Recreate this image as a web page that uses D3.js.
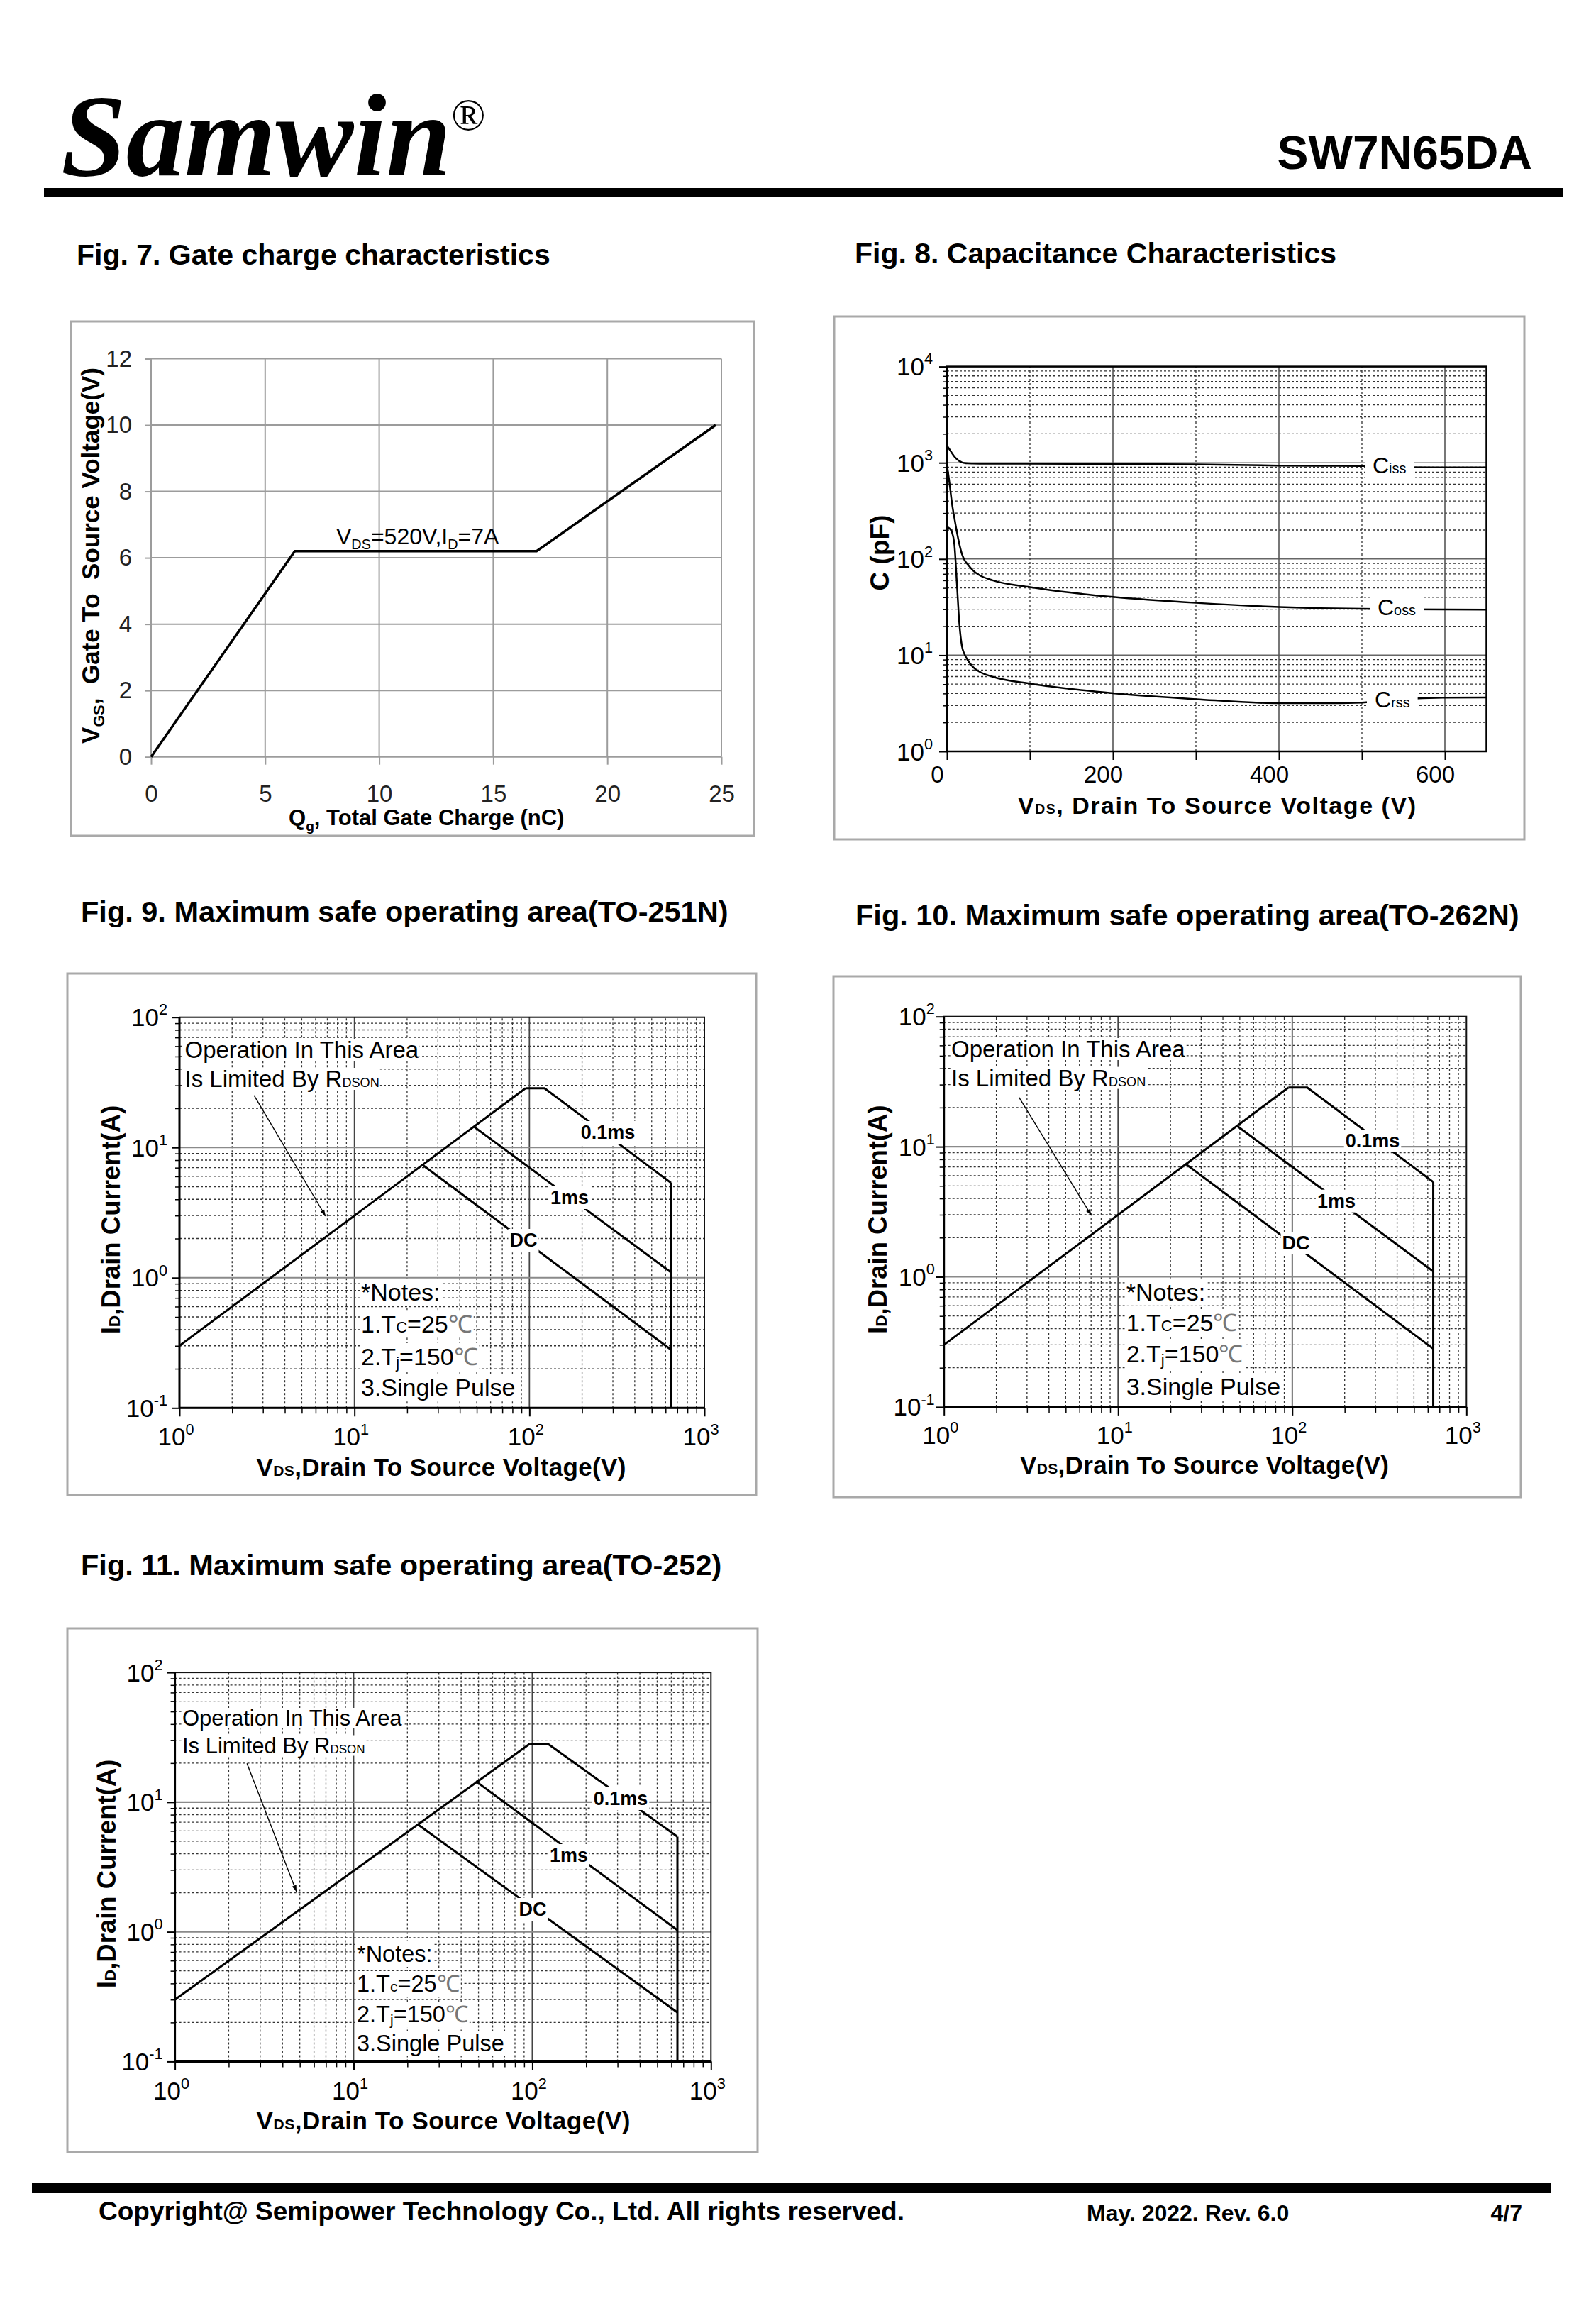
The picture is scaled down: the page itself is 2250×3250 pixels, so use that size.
<!DOCTYPE html>
<html><head><meta charset="utf-8">
<script src="https://cdn.jsdelivr.net/npm/d3@7"></script>
<style>html,body{margin:0;padding:0;background:#fff;overflow:hidden}svg{display:block}</style>
</head><body>
<svg id="page" width="2250" height="3250"></svg>
<script>
// ================= DATA =================
// Fig.7 gate charge
const gateCharge  = [0, 6.3, 16.9, 24.75];   // Qg (nC)
const gateVoltage = [0, 6.2, 6.2, 10];       // VGS (V)
const gateXTicks  = [0, 5, 10, 15, 20, 25];
const gateYTicks  = [0, 2, 4, 6, 8, 10, 12];

// Fig.8 capacitance
const capVds = [0, 3, 6, 9, 12, 15, 18, 21, 25, 31, 39, 55, 100, 148, 200, 300, 400, 450, 500, 550, 600, 650];
const ciss   = [1500, 1380, 1260, 1160, 1090, 1040, 1010, 995, 985, 982, 980, 980, 978, 975, 972, 962, 935, 930, 927, 900, 895, 893];
const coss   = [950, 620, 380, 265, 190, 142, 113, 98, 88, 76.5, 68, 60, 51, 44.8, 40.3, 35, 31.7, 30.8, 30.4, 30, 29.8, 29.7];
const crss   = [214, 208, 190, 140, 55, 21, 12.5, 10.3, 8.9, 7.6, 6.75, 5.97, 5.06, 4.47, 4.02, 3.49, 3.17, 3.17, 3.22, 3.5, 3.62, 3.64];
const capXTicks = [0, 200, 400, 600];
const capYTicks = [1, 10, 100, 1000, 10000];

// Fig.9 / Fig.10 safe operating area (TO-251N / TO-262N)   [VDS (V), ID (A)]
const soaRdson = [[1, 0.3], [95, 28.5]];
const soa01ms  = [[95, 28.5], [122, 28.5], [645, 5.35]];
const soa1ms   = [[48, 14.5], [645, 1.1]];
const soaDC    = [[24.5, 7.35], [645, 0.28]];
const soaVmax  = [[645, 5.35], [645, 0.1]];
const soaArrow9  = [[2.67, 25.1], [6.84, 2.97]];
const soaArrow10 = [[2.70, 23.9], [7.03, 2.96]];

// Fig.11 safe operating area (TO-252)
const soa252Rdson = [[1, 0.3], [97, 28.2]];
const soa252_01ms = [[97, 28.2], [122, 28.2], [649, 5.42]];
const soa252_1ms  = [[48.3, 14.5], [649, 1.03]];
const soa252DC    = [[22.8, 6.75], [649, 0.239]];
const soa252Vmax  = [[649, 5.42], [649, 0.1]];
const soaArrow11  = [[2.53, 19.9], [4.79, 2.04]];

const soaXTicks = [1, 10, 100, 1000];
const soaYTicks = [0.1, 1, 10, 100];

// ================= HELPERS =================
const SANS  = '"Liberation Sans", Arial, Helvetica, sans-serif';
const SERIF = '"Liberation Serif", "Times New Roman", serif';
const svg = d3.select('#page');
svg.append('rect').attr('width', 2250).attr('height', 3250).attr('fill', '#fff');
const defs = svg.append('defs');
defs.append('marker').attr('id', 'arr').attr('viewBox', '0 0 10 10')
  .attr('refX', 10).attr('refY', 5).attr('markerWidth', 16).attr('markerHeight', 9)
  .attr('markerUnits', 'userSpaceOnUse').attr('orient', 'auto')
  .append('path').attr('d', 'M0,1.5 L10,5 L0,8.5 Z').attr('fill', '#000');

function rich(g, x, y, parts, o = {}) {
  const size = o.size || 33;
  const t = g.append('text')
    .attr('font-family', o.family || SANS)
    .attr('font-size', size)
    .attr('font-weight', o.weight || 'normal')
    .attr('font-style', o.style || 'normal')
    .attr('text-anchor', o.anchor || 'start')
    .attr('fill', o.fill || '#000')
    .style('white-space', 'pre');
  if (o.rotate) t.attr('transform', `translate(${x},${y}) rotate(${o.rotate})`);
  else t.attr('x', x).attr('y', y);
  if (o.length) t.attr('textLength', o.length).attr('lengthAdjust', o.adjust || 'spacing');
  let cur = 0;
  (typeof parts === 'string' ? [[parts]] : parts).forEach(p => {
    const [s, sc = 1, sh = 0, fill] = typeof p === 'string' ? [p] : p;
    const ts = t.append('tspan').text(s).attr('font-size', size * sc);
    const dy = sh * size - cur;
    if (dy) ts.attr('dy', dy);
    cur = sh * size;
    if (fill) ts.attr('fill', fill);
  });
  return t;
}
function bg(g, t, px = 3, py = 1) {
  const b = t.node().getBBox();
  g.insert('rect', () => t.node())
    .attr('x', b.x - px).attr('y', b.y - py)
    .attr('width', b.width + 2 * px).attr('height', b.height + 2 * py)
    .attr('fill', '#fff');
}
function box(g, x, y, w, h) {
  g.append('rect').attr('x', x).attr('y', y).attr('width', w).attr('height', h)
    .attr('fill', 'none').attr('stroke', '#a9a9a9').attr('stroke-width', 3);
}
function minors(lo, hi) {
  const out = [];
  for (let d = lo; d < hi * 0.999; d *= 10)
    for (let k = 2; k <= 9; k++) out.push(+(d * k).toPrecision(3));
  return out;
}
function majorsInside(lo, hi) {
  const out = [];
  for (let d = lo * 10; d < hi * 0.999; d *= 10) out.push(+d.toPrecision(3));
  return out;
}
function cleanAxis(a, color, w) {
  a.select('.domain').remove();
  a.selectAll('line').attr('stroke', color).attr('stroke-width', w);
  a.selectAll('text').remove();
}

// ================= HEADER / FOOTER =================
rich(svg, 86, 247, 'Samwin', { family: SERIF, size: 165, weight: 'bold', style: 'italic' });
rich(svg, 636, 183, '®', { family: SERIF, size: 64 });
rich(svg, 2160, 238, 'SW7N65DA', { size: 66, weight: 'bold', anchor: 'end' });
svg.append('rect').attr('x', 62).attr('y', 265).attr('width', 2142).attr('height', 13).attr('fill', '#000');

svg.append('rect').attr('x', 45).attr('y', 3077).attr('width', 2141).attr('height', 14).attr('fill', '#000');
rich(svg, 139, 3129, 'Copyright@ Semipower Technology Co., Ltd. All rights reserved.', { size: 37, weight: 'bold' });
rich(svg, 1532, 3130, 'May. 2022. Rev. 6.0', { size: 32, weight: 'bold' });
rich(svg, 2146, 3130, '4/7', { size: 32, weight: 'bold', anchor: 'end' });

// titles
rich(svg, 108, 373, 'Fig. 7. Gate charge characteristics', { size: 41, weight: 'bold' });
rich(svg, 1205, 371, 'Fig. 8. Capacitance Characteristics', { size: 41, weight: 'bold' });
rich(svg, 114, 1299, 'Fig. 9. Maximum safe operating area(TO-251N)', { size: 41.5, weight: 'bold' });
rich(svg, 1206, 1304, 'Fig. 10. Maximum safe operating area(TO-262N)', { size: 41.5, weight: 'bold' });
rich(svg, 114, 2220, 'Fig. 11. Maximum safe operating area(TO-252)', { size: 41.5, weight: 'bold' });

// ================= FIG 7 =================
{
  const g = svg.append('g');
  box(g, 100, 453, 963, 725);
  const x = d3.scaleLinear([0, 25], [213, 1017]);
  const y = d3.scaleLinear([0, 12], [1066.7, 505.5]);
  const gc = '#9c9c9c';
  g.selectAll('.gv').data(gateXTicks).join('line')
    .attr('x1', d => x(d)).attr('x2', d => x(d)).attr('y1', y(0)).attr('y2', y(12))
    .attr('stroke', gc).attr('stroke-width', 2);
  g.selectAll('.gh').data(gateYTicks).join('line')
    .attr('x1', x(0)).attr('x2', x(25)).attr('y1', d => y(d)).attr('y2', d => y(d))
    .attr('stroke', gc).attr('stroke-width', 2);
  const ay = g.append('g').attr('transform', `translate(${x(0)},0)`)
    .call(d3.axisLeft(y).tickValues(gateYTicks).tickSize(9).tickPadding(18));
  ay.select('.domain').remove();
  ay.selectAll('line').attr('stroke', gc).attr('stroke-width', 2);
  ay.selectAll('text').attr('font-size', 33).attr('font-family', SANS).attr('fill', '#222');
  const ax = g.append('g').attr('transform', `translate(0,${y(0)})`)
    .call(d3.axisBottom(x).tickValues(gateXTicks).tickSize(11).tickPadding(29));
  ax.select('.domain').remove();
  ax.selectAll('line').attr('stroke', gc).attr('stroke-width', 2);
  ax.selectAll('text').attr('font-size', 33).attr('font-family', SANS).attr('fill', '#222');

  const pts = gateCharge.map((q, i) => [q, gateVoltage[i]]);
  g.append('path').attr('d', d3.line().x(d => x(d[0])).y(d => y(d[1]))(pts))
    .attr('fill', 'none').attr('stroke', '#000').attr('stroke-width', 3.5);

  rich(g, 474, 767, [['V'], ['DS', 0.62, 0.22], ['=520V,I', 1, 0], ['D', 0.62, 0.22], ['=7A', 1, 0]], { size: 32 });
  rich(g, 140, 783, [['V'], ['GS', 0.62, 0.2], [',  Gate To  Source Voltage(V)', 1, 0]],
    { size: 35, weight: 'bold', anchor: 'middle', rotate: -90 });
  rich(g, 407, 1163, [['Q'], ['g', 0.62, 0.25], [', Total Gate Charge (nC)', 1, 0]], { size: 31, weight: 'bold' });
}

// ================= FIG 8 =================
{
  const g = svg.append('g');
  box(g, 1176, 446, 973, 737);
  const x = d3.scaleLinear([0, 650], [1335, 2095.5]);
  const y = d3.scaleLog([1, 10000], [1059, 516.6]);
  const [X0, X1] = x.range(), [Y0, Y1] = y.range();
  g.selectAll('.hm').data(minors(1, 10000)).join('line')
    .attr('x1', X0).attr('x2', X1).attr('y1', d => y(d)).attr('y2', d => y(d))
    .attr('stroke', '#333').attr('stroke-width', 1.3).attr('stroke-dasharray', '3,3');
  g.selectAll('.hM').data(majorsInside(1, 10000)).join('line')
    .attr('x1', X0).attr('x2', X1).attr('y1', d => y(d)).attr('y2', d => y(d))
    .attr('stroke', '#666').attr('stroke-width', 1.6);
  g.selectAll('.vm').data([100, 300, 500]).join('line')
    .attr('x1', d => x(d)).attr('x2', d => x(d)).attr('y1', Y0).attr('y2', Y1)
    .attr('stroke', '#333').attr('stroke-width', 1.3).attr('stroke-dasharray', '3,3');
  g.selectAll('.vM').data([200, 400, 600]).join('line')
    .attr('x1', d => x(d)).attr('x2', d => x(d)).attr('y1', Y0).attr('y2', Y1)
    .attr('stroke', '#555').attr('stroke-width', 1.6);
  g.append('rect').attr('x', X0).attr('y', Y1).attr('width', X1 - X0).attr('height', Y0 - Y1)
    .attr('fill', 'none').attr('stroke', '#000').attr('stroke-width', 2.5);
  cleanAxis(g.append('g').attr('transform', `translate(${X0},0)`)
    .call(d3.axisLeft(y).tickValues(minors(1, 10000)).tickSize(5)), '#000', 1.5);
  cleanAxis(g.append('g').attr('transform', `translate(${X0},0)`)
    .call(d3.axisLeft(y).tickValues(capYTicks).tickSize(11)), '#000', 2);
  cleanAxis(g.append('g').attr('transform', `translate(0,${Y0})`)
    .call(d3.axisBottom(x).tickValues([0, 100, 200, 300, 400, 500, 600]).tickSize(12)), '#000', 2);

  capYTicks.forEach(v => {
    const e = Math.round(Math.log10(v));
    rich(g, X0 - 20, y(v) + 12.5, [['10'], [String(e), 0.62, -0.45]], { size: 35, anchor: 'end' });
  });
  capXTicks.forEach(v => rich(g, x(v) - 13.5, 1103, String(v), { size: 33, anchor: 'middle' }));

  const line = d3.line().x(d => x(d[0])).y(d => y(d[1])).curve(d3.curveMonotoneX);
  [ciss, coss, crss].forEach(s => {
    g.append('path').attr('d', line(capVds.map((v, i) => [v, s[i]])))
      .attr('fill', 'none').attr('stroke', '#000').attr('stroke-width', 2.5);
  });
  [['iss', 1935, 667], ['oss', 1942, 866.6], ['rss', 1938, 997.4]].forEach(([sub, lx, ly]) => {
    const t = rich(g, lx, ly, [['C'], [sub, 0.62, 0]], { size: 32 });
    bg(g, t, 11, 1);
  });
  rich(g, 1253, 779, 'C (pF)', { size: 37, weight: 'bold', anchor: 'middle', rotate: -90 });
  rich(g, 1435, 1147, [['V'], ['DS', 0.57, 0], [', Drain To Source Voltage (V)', 1, 0]],
    { size: 34, weight: 'bold', length: 561 });
}

// ================= SOA FIGURES =================
function drawSOA(c) {
  const g = svg.append('g');
  box(g, ...c.box);
  const x = d3.scaleLog([1, 1000], c.px);
  const y = d3.scaleLog([0.1, 100], c.py);
  const [X0, X1] = c.px, [Y0, Y1] = c.py;
  g.selectAll('.vm').data(minors(1, 1000)).join('line')
    .attr('x1', d => x(d)).attr('x2', d => x(d)).attr('y1', Y0).attr('y2', Y1)
    .attr('stroke', '#333').attr('stroke-width', 1.3).attr('stroke-dasharray', '3,3');
  g.selectAll('.hm').data(minors(0.1, 100)).join('line')
    .attr('x1', X0).attr('x2', X1).attr('y1', d => y(d)).attr('y2', d => y(d))
    .attr('stroke', '#333').attr('stroke-width', 1.3).attr('stroke-dasharray', '3,3');
  g.selectAll('.vM').data(majorsInside(1, 1000)).join('line')
    .attr('x1', d => x(d)).attr('x2', d => x(d)).attr('y1', Y0).attr('y2', Y1)
    .attr('stroke', '#444').attr('stroke-width', 1.8);
  g.selectAll('.hM').data(majorsInside(0.1, 100)).join('line')
    .attr('x1', X0).attr('x2', X1).attr('y1', d => y(d)).attr('y2', d => y(d))
    .attr('stroke', '#8a8a8a').attr('stroke-width', 2.2);
  g.append('rect').attr('x', X0).attr('y', Y1).attr('width', X1 - X0).attr('height', Y0 - Y1)
    .attr('fill', 'none').attr('stroke', '#111').attr('stroke-width', 2);
  g.append('line').attr('x1', X0).attr('x2', X0).attr('y1', Y0).attr('y2', Y1).attr('stroke', '#000').attr('stroke-width', 3);
  g.append('line').attr('x1', X0).attr('x2', X1).attr('y1', Y0).attr('y2', Y0).attr('stroke', '#000').attr('stroke-width', 3);
  cleanAxis(g.append('g').attr('transform', `translate(${X0},0)`)
    .call(d3.axisLeft(y).tickValues(minors(0.1, 100)).tickSize(6)), '#000', 1.5);
  cleanAxis(g.append('g').attr('transform', `translate(${X0},0)`)
    .call(d3.axisLeft(y).tickValues(soaYTicks).tickSize(11)), '#000', 2);
  cleanAxis(g.append('g').attr('transform', `translate(0,${Y0})`)
    .call(d3.axisBottom(x).tickValues(minors(1, 1000)).tickSize(8)), '#000', 1.5);
  cleanAxis(g.append('g').attr('transform', `translate(0,${Y0})`)
    .call(d3.axisBottom(x).tickValues(soaXTicks).tickSize(12)), '#000', 2);

  soaYTicks.forEach(v => {
    const e = Math.round(Math.log10(v));
    rich(g, X0 - c.ylabGap, y(v) + 12.5, [['10'], [String(e), 0.62, -0.45]], { size: 35, anchor: 'end' });
  });
  soaXTicks.forEach(v => {
    const e = Math.round(Math.log10(v));
    rich(g, x(v) - 5, Y0 + c.xlabDy, [['10'], [String(e), 0.62, -0.45]], { size: 35, anchor: 'middle' });
  });

  const line = d3.line().x(d => x(d[0])).y(d => y(d[1]));
  c.curves.forEach(d => g.append('path').attr('d', line(d))
    .attr('fill', 'none').attr('stroke', '#000').attr('stroke-width', 3).attr('stroke-linejoin', 'miter'));

  c.labels.forEach(([s, lx, ly]) => {
    const t = rich(g, lx, ly, s, { size: 27, weight: 'bold', anchor: 'middle' });
    bg(g, t, 2, 1);
  });

  const o1 = rich(g, c.op.x, c.op.y[0], 'Operation In This Area', { size: c.op.size });
  bg(g, o1, 1, -3);
  const o2 = rich(g, c.op.x, c.op.y[1], [['Is Limited By R'], ['DSON', 0.55, 0]], { size: c.op.size });
  bg(g, o2, 1, -3);
  g.append('line')
    .attr('x1', x(c.arrow[0][0])).attr('y1', y(c.arrow[0][1]))
    .attr('x2', x(c.arrow[1][0])).attr('y2', y(c.arrow[1][1]))
    .attr('stroke', '#000').attr('stroke-width', 1.4).attr('marker-end', 'url(#arr)');

  const noteLines = [
    ['*Notes:'],
    [['1.T'], [c.tc, 0.65, 0], ['=25', 1, 0], ['℃', 1, 0, '#777']],
    [['2.T'], ['j', 0.65, 0.12], ['=150', 1, 0], ['℃', 1, 0, '#777']],
    ['3.Single Pulse']
  ];
  noteLines.forEach((p, i) => {
    const t = rich(g, c.notes.x, c.notes.y[i], p, { size: c.notes.size });
    bg(g, t, 2, 0);
  });

  rich(g, c.ylab[0], c.ylab[1], [['I'], ['D', 0.62, 0], [',Drain Current(A)', 1, 0]],
    { size: 36.5, weight: 'bold', anchor: 'middle', rotate: -90 });
  rich(g, c.xlab[0], c.xlab[1], [['V'], ['DS', 0.6, 0], [',Drain To Source Voltage(V)', 1, 0]],
    { size: 35, weight: 'bold', length: c.xlab[2] });
}

drawSOA({
  box: [95, 1372, 971, 735], px: [253, 993], py: [1984.3, 1433.7],
  ylabGap: 17, xlabDy: 53,
  curves: [soaRdson, soa01ms, soa1ms, soaDC, soaVmax],
  labels: [['0.1ms', 857, 1605], ['1ms', 803, 1697], ['DC', 738, 1757]],
  op: { x: 260.5, y: [1491, 1532], size: 33 },
  arrow: soaArrow9,
  notes: { x: 509, y: [1833, 1878, 1924, 1967], size: 34 }, tc: 'C',
  ylab: [169, 1719], xlab: [361.5, 2080, 521]
});
drawSOA({
  box: [1175, 1376, 969, 734], px: [1330.7, 2067.3], py: [1982.9, 1432.7],
  ylabGap: 13, xlabDy: 52,
  curves: [soaRdson, soa01ms, soa1ms, soaDC, soaVmax],
  labels: [['0.1ms', 1935, 1617], ['1ms', 1884, 1701.7], ['DC', 1827, 1761]],
  op: { x: 1341, y: [1490, 1530.6], size: 33 },
  arrow: soaArrow10,
  notes: { x: 1587.7, y: [1832.6, 1876, 1920, 1966], size: 34 }, tc: 'C',
  ylab: [1250, 1718.7], xlab: [1438, 2077.4, 520]
});
drawSOA({
  box: [95, 2295, 973, 738], px: [246.6, 1002.3], py: [2905.4, 2357.1],
  ylabGap: 17, xlabDy: 54,
  curves: [soa252Rdson, soa252_01ms, soa252_1ms, soa252DC, soa252Vmax],
  labels: [['0.1ms', 875, 2544], ['1ms', 802, 2624], ['DC', 751, 2700]],
  op: { x: 257, y: [2432, 2470.5], size: 31 },
  arrow: soaArrow11,
  notes: { x: 503, y: [2765, 2807, 2850, 2891], size: 32.5 }, tc: 'c',
  ylab: [163, 2641], xlab: [361.5, 3001, 527]
});
</script>
</body></html>
